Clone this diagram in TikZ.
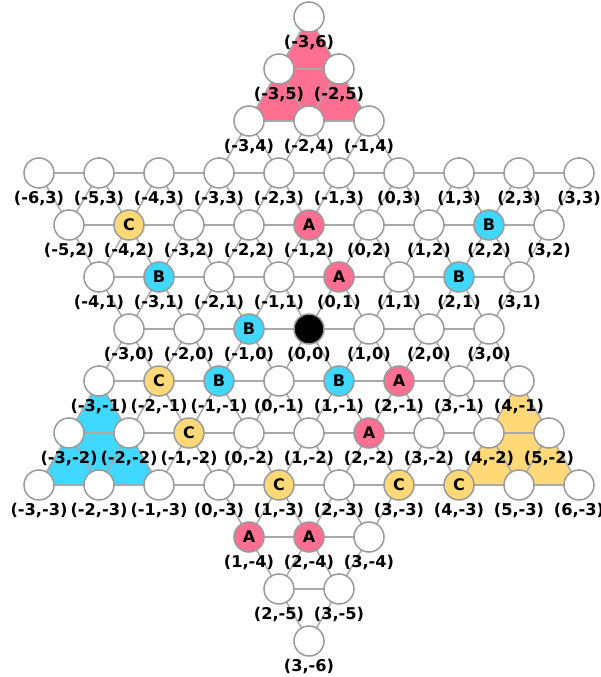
\documentclass[tikz,border=0pt]{standalone}
\usepackage{fontspec}
\setmainfont{DejaVu Sans}
\usepackage{xcolor}
\usepackage{tikz}
\usetikzlibrary{backgrounds}
\definecolor{pnk}{HTML}{FF6F91}
\definecolor{cyn}{HTML}{40D8FF}
\definecolor{ylw}{HTML}{FFD978}
\definecolor{rim}{HTML}{9A9A9A}

\tikzset{
  cell/.style={draw=rim,circle,fill=white,line width=1.5pt,minimum size=30pt,inner sep=0pt,
    font=\fontsize{16}{18}\selectfont\bfseries},
  lbl/.style={inner sep=0pt,font=\fontsize{16.2}{18}\selectfont\bfseries},
  link/.style={draw=rim!85,line width=1.5pt},
  pa/.style={fill=pnk,execute at begin node=A},
  pb/.style={fill=cyn,execute at begin node=B},
  pc/.style={fill=ylw,execute at begin node=C},
  % pieces on the board
  k-1_2/.style=pa, k0_1/.style=pa, k2_-1/.style=pa, k2_-2/.style=pa, k1_-4/.style=pa, k2_-4/.style=pa,
  k2_2/.style=pb, k-3_1/.style=pb, k2_1/.style=pb, k-1_0/.style=pb, k-1_-1/.style=pb, k1_-1/.style=pb,
  k-4_2/.style=pc, k-2_-1/.style=pc, k-1_-2/.style=pc, k1_-3/.style=pc, k3_-3/.style=pc, k4_-3/.style=pc,
  k0_0/.style={fill=black}
}

\begin{document}
\begin{tikzpicture}[x=1pt,y=1pt]
  \useasboundingbox (-309,-348) rectangle (291,329);
  % holes, row by row: r / first q / last q
  \foreach \r/\a/\b in {6/-3/-3,5/-3/-2,4/-3/-1,3/-6/3,2/-5/3,1/-4/3,0/-3/3,
                         -1/-3/4,-2/-3/5,-3/-3/6,-4/1/3,-5/2/3,-6/3/3}{
    \foreach \q in {\a,...,\b}{
      \node[cell,k\q_\r/.try] (v\q_\r) at ({60*\q+30*\r},{52*\r}) {};
      \node[lbl] (t\q_\r) at ({60*\q+30*\r},{52*\r-26}) {(\q,\r)};
    }
  }
  \begin{scope}[on background layer]
    \fill[pnk] (v-3_6.center) -- (v-3_4.center) -- (v-1_4.center) -- cycle;
    \fill[cyn] (v-3_-1.center) -- (v-3_-3.center) -- (v-1_-3.center) -- cycle;
    \fill[ylw] (v4_-1.center) -- (v4_-3.center) -- (v6_-3.center) -- cycle;
    % along the rows
    \foreach \r/\a/\b in {5/-3/-2,4/-3/-1,3/-6/3,2/-5/3,1/-4/3,0/-3/3,
                           -1/-3/4,-2/-3/5,-3/-3/6,-4/1/3,-5/2/3}{
      \pgfmathtruncatemacro\c{\b-1}
      \foreach \q in {\a,...,\c}{
        \pgfmathtruncatemacro\n{\q+1}
        \draw[link] (v\q_\r.center) -- (v\n_\r.center);
      }
    }
    % up to the next row: r / first q / last q straight up / first q / last q up left
    \foreach \r/\a/\b/\c/\d in {5/-3/-3/-2/-2,4/-3/-2/-2/-1,3/-3/-1/-2/0,2/-5/3/-5/3,1/-4/3/-4/3,
                                 0/-3/3/-3/3,-1/-3/3/-2/4,-2/-3/4/-2/5,-3/-3/5/-2/6,
                                 -4/1/3/1/3,-5/2/3/2/3,-6/3/3/3/3}{
      \pgfmathtruncatemacro\u{\r+1}
      \foreach \q in {\a,...,\b}
        \draw[link] (v\q_\r.center) -- (v\q_\u.center);
      \foreach \q in {\c,...,\d}{
        \pgfmathtruncatemacro\p{\q-1}
        \draw[link] (v\q_\r.center) -- (v\p_\u.center);
      }
    }
  \end{scope}
\end{tikzpicture}
\end{document}
